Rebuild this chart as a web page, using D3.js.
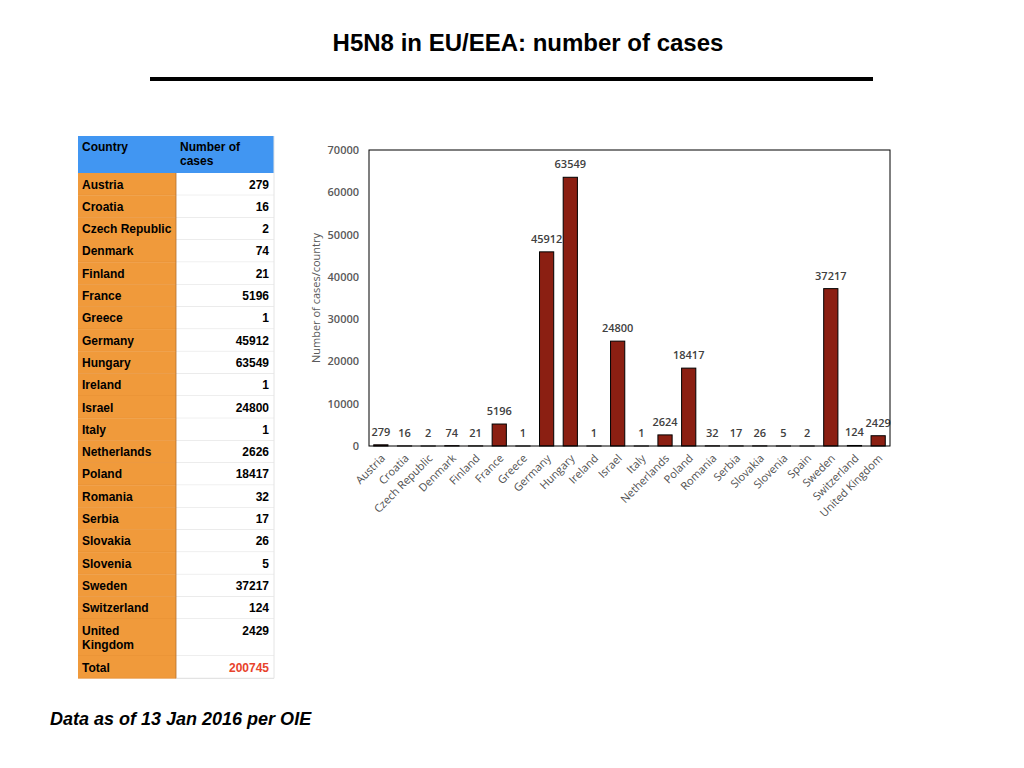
<!DOCTYPE html>
<html>
<head>
<meta charset="utf-8">
<script src="https://cdn.jsdelivr.net/npm/d3@7"></script>
<style>
  body { margin: 0; background: #fff; }
  svg { display: block; }
</style>
</head>
<body>
<svg id="slide" width="1024" height="768"></svg>
<script>
// ---- data ----
const tableCountries = ["Austria", "Croatia", "Czech Republic", "Denmark", "Finland", "France", "Greece",
  "Germany", "Hungary", "Ireland", "Israel", "Italy", "Netherlands", "Poland", "Romania", "Serbia",
  "Slovakia", "Slovenia", "Sweden", "Switzerland", "United Kingdom"];
const tableCases = [279, 16, 2, 74, 21, 5196, 1, 45912, 63549, 1, 24800, 1, 2626, 18417, 32, 17, 26, 5, 37217, 124, 2429];
const tableTotal = 200745;

const chartCountries = ["Austria", "Croatia", "Czech Republic", "Denmark", "Finland", "France", "Greece",
  "Germany", "Hungary", "Ireland", "Israel", "Italy", "Netherlands", "Poland", "Romania", "Serbia",
  "Slovakia", "Slovenia", "Spain", "Sweden", "Switzerland", "United Kingdom"];
const chartCases = [279, 16, 2, 74, 21, 5196, 1, 45912, 63549, 1, 24800, 1, 2624, 18417, 32, 17, 26, 5, 2, 37217, 124, 2429];
const yTicks = [0, 10000, 20000, 30000, 40000, 50000, 60000, 70000];

const svg = d3.select("#slide");
const helv = "'Liberation Sans', Arial, Helvetica, sans-serif";
const chartFont = "'Open Sans', 'Noto Sans', sans-serif";

// ---- title ----
svg.append("text")
  .attr("x", 528).attr("y", 51)
  .attr("text-anchor", "middle")
  .attr("font-family", helv).attr("font-weight", "bold").attr("font-size", 24)
  .attr("fill", "#000")
  .text("H5N8 in EU/EEA: number of cases");

svg.append("rect")
  .attr("x", 150).attr("y", 77).attr("width", 723).attr("height", 4)
  .attr("fill", "#000");

// ---- table ----
const tbl = svg.append("g");
const tX = 78, tSplit = 176, tRight = 274;
const headTop = 136, headBottom = 173, rowH = 22.3;

tbl.append("rect").attr("x", tX).attr("y", headTop)
  .attr("width", tRight - tX).attr("height", headBottom - headTop).attr("fill", "#4196f2");
tbl.append("text").attr("x", 82).attr("y", 151)
  .attr("font-family", helv).attr("font-weight", "bold").attr("font-size", 12)
  .text("Country");
tbl.append("text").attr("x", 180).attr("y", 151)
  .attr("font-family", helv).attr("font-weight", "bold").attr("font-size", 12)
  .text("Number of");
tbl.append("text").attr("x", 180).attr("y", 165)
  .attr("font-family", helv).attr("font-weight", "bold").attr("font-size", 12)
  .text("cases");

// row layout: United Kingdom wraps to two lines
const rows = tableCountries.map((c, i) => ({ name: c, value: tableCases[i], total: false }));
rows.push({ name: "Total", value: tableTotal, total: true });
let yCursor = headBottom;
rows.forEach(r => {
  r.y = yCursor;
  r.h = r.name === "United Kingdom" ? 37 : rowH;
  yCursor += r.h;
});

const rowG = tbl.selectAll("g.row").data(rows).join("g").attr("class", "row");
rowG.append("rect")
  .attr("x", tX).attr("y", d => d.y).attr("width", tSplit - tX).attr("height", d => d.h)
  .attr("fill", "#f09a3b");
rowG.append("rect")
  .attr("x", tSplit).attr("y", d => d.y).attr("width", tRight - tSplit).attr("height", d => d.h)
  .attr("fill", "#fff");
rowG.append("line")
  .attr("x1", tSplit).attr("x2", tRight)
  .attr("y1", d => d.y + d.h).attr("y2", d => d.y + d.h)
  .attr("stroke", "#dcdcdc").attr("stroke-width", 1);
rowG.append("line")
  .attr("x1", tX).attr("x2", tSplit)
  .attr("y1", d => d.y + d.h).attr("y2", d => d.y + d.h)
  .attr("stroke", "#e08a30").attr("stroke-width", 0.6);
rowG.each(function(d) {
  const g = d3.select(this);
  const lines = d.name === "United Kingdom" ? ["United", "Kingdom"] : [d.name];
  lines.forEach((ln, k) => {
    g.append("text")
      .attr("x", 82).attr("y", d.y + 15.5 + k * 14)
      .attr("font-family", helv).attr("font-weight", "bold").attr("font-size", 12)
      .attr("fill", "#000").text(ln);
  });
  g.append("text")
    .attr("x", 269).attr("y", d.y + 15.5)
    .attr("text-anchor", "end")
    .attr("font-family", helv).attr("font-weight", "bold").attr("font-size", 12)
    .attr("fill", d.total ? "#e8432c" : "#000")
    .text(d.value);
});
tbl.append("line")
  .attr("x1", tRight).attr("x2", tRight).attr("y1", headTop).attr("y2", yCursor)
  .attr("stroke", "#e4e4e4");
tbl.append("line")
  .attr("x1", tSplit).attr("x2", tSplit).attr("y1", headBottom).attr("y2", yCursor)
  .attr("stroke", "#b07030").attr("stroke-width", 0.8);

// ---- bar chart ----
const plot = { left: 369, right: 890, top: 150, bottom: 446 };

const x = d3.scaleBand()
  .domain(chartCountries)
  .range([plot.left, plot.right])
  .paddingInner(0.4)
  .paddingOuter(0.2);

const y = d3.scaleLinear()
  .domain([0, 70000])
  .range([plot.bottom, plot.top]);

const chart = svg.append("g");

// y axis labels
const yAxis = chart.append("g")
  .attr("transform", `translate(${plot.left - 6},0)`)
  .call(d3.axisLeft(y).tickValues(yTicks).tickSize(0).tickPadding(4).tickFormat(d3.format("d")));
yAxis.select(".domain").remove();
yAxis.selectAll("text")
  .attr("font-family", chartFont).attr("font-size", 11).attr("font-weight", 600)
  .attr("fill", "#595959");

chart.append("text")
  .attr("transform", `translate(320,${(plot.top + plot.bottom) / 2}) rotate(-90)`)
  .attr("text-anchor", "middle")
  .attr("font-family", chartFont).attr("font-size", 11).attr("font-weight", 500)
  .attr("fill", "#595959")
  .text("Number of cases/country");

// bars
const data = chartCountries.map((c, i) => ({ country: c, value: chartCases[i] }));
chart.selectAll("rect.bar").data(data).join("rect")
  .attr("class", "bar")
  .attr("x", d => x(d.country))
  .attr("y", d => y(d.value))
  .attr("width", x.bandwidth())
  .attr("height", d => y(0) - y(d.value))
  .attr("fill", "#8b1f12")
  .attr("stroke", "#000").attr("stroke-width", 1);

// value labels
chart.selectAll("text.val").data(data).join("text")
  .attr("class", "val")
  .attr("x", d => x(d.country) + x.bandwidth() / 2)
  .attr("y", d => y(d.value) - 9)
  .attr("text-anchor", "middle")
  .attr("font-family", chartFont).attr("font-size", 11).attr("font-weight", 600)
  .attr("fill", "#404040")
  .text(d => d.value);

// frame
chart.append("rect")
  .attr("x", plot.left).attr("y", plot.top)
  .attr("width", plot.right - plot.left).attr("height", plot.bottom - plot.top)
  .attr("fill", "none").attr("stroke", "#000").attr("stroke-width", 1);

// x labels
const xAxis = chart.append("g")
  .attr("transform", `translate(0,${plot.bottom})`)
  .call(d3.axisBottom(x).tickSize(0).tickPadding(0));
xAxis.select(".domain").remove();
xAxis.selectAll("text")
  .attr("font-family", chartFont).attr("font-size", 11).attr("font-weight", 500)
  .attr("fill", "#505050")
  .attr("text-anchor", "end")
  .attr("dy", null).attr("y", null)
  .attr("transform", "translate(5,13) rotate(-45)");

// ---- footnote ----
svg.append("text")
  .attr("x", 50).attr("y", 725)
  .attr("font-family", helv).attr("font-weight", "bold").attr("font-style", "italic")
  .attr("font-size", 18).attr("fill", "#000")
  .text("Data as of 13 Jan 2016 per OIE");
</script>
</body>
</html>
